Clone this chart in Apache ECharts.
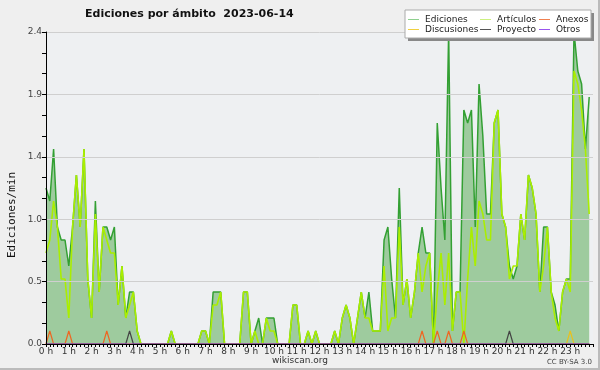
<!DOCTYPE html>
<html><head><meta charset="utf-8">
<script src="https://cdn.jsdelivr.net/npm/echarts@6/dist/echarts.min.js"></script>
<style>html,body{margin:0;padding:0;background:#efefef}#c{width:600px;height:370px}</style>
</head><body><div id="c"></div>
<script>
// 10-minute buckets, edits per minute
var ediciones = [1.2,1.1,1.5,0.9,0.8,0.8,0.6,0.9,1.3,0.9,1.5,0.5,0.2,1.1,0.4,0.9,0.9,0.8,0.9,0.3,0.6,0.2,0.4,0.4,
0.1,0,0,0,0,0,0,0,0,0.1,0,0,0,0,0,0,0,0.1,0.1,0,0.4,0.4,0.4,0,
0,0,0,0,0.4,0.4,0,0.1,0.2,0,0.2,0.2,0.2,0,0,0,0,0.3,0.3,0,0,0.1,0,0.1,
0,0,0,0,0.1,0,0.2,0.3,0.2,0,0.2,0.4,0.2,0.4,0.1,0.1,0.1,0.8,0.9,0.5,0.2,1.2,0.3,0.5,
0.2,0.4,0.7,0.9,0.7,0.7,0,1.7,1.2,0.8,2.4,0.1,0.4,0.4,1.8,1.7,1.8,0.9,2.0,1.6,1.0,1.0,1.7,1.8,
1.0,0.9,0.6,0.5,0.6,1.0,0.8,1.3,1.2,1.0,0.4,0.9,0.9,0.4,0.3,0.1,0.4,0.5,0.5,2.4,2.1,2.0,1.5,1.9];
var articulos = [0.7,0.8,1.1,0.9,0.5,0.5,0.2,0.9,1.3,0.9,1.5,0.5,0.2,1.0,0.4,0.9,0.8,0.7,0.7,0.3,0.6,0.2,0.3,0.4,
0.1,0,0,0,0,0,0,0,0,0.1,0,0,0,0,0,0,0,0.1,0.1,0,0.3,0.3,0.4,0,
0,0,0,0,0.4,0.4,0,0.1,0,0,0.2,0.1,0.1,0,0,0,0,0.3,0.3,0,0,0.1,0,0.1,
0,0,0,0,0.1,0,0.2,0.3,0.2,0,0.2,0.4,0.2,0.2,0.1,0.1,0.1,0.6,0.1,0.2,0.2,0.9,0.3,0.5,
0.2,0.4,0.7,0.4,0.6,0.7,0,0.4,0.7,0.3,0.7,0.1,0.4,0.4,0,0.5,0.9,0.6,1.1,1.0,0.8,0.8,1.7,1.8,
1.0,0.9,0.5,0.6,0.6,1.0,0.8,1.3,1.2,1.0,0.4,0.6,0.9,0.4,0.2,0.1,0.4,0.5,0.4,2.1,2.0,1.8,1.5,1.0];
var anexosIdx = [1,6,16,99,103,106,110];
var proyectoIdx = [22,122];
var discusionesIdx = [138];
var spikeValue = 0.1;
var hourTicks = [0,1,2,3,4,5,6,7,8,9,10,11,12,13,14,15,16,17,18,19,20,21,22,23];

function pairs(arr){ return arr.map(function(v,i){ return [i/6, v]; }); }
function spikes(idx){ var a=[]; for(var i=0;i<ediciones.length;i++){ a.push([i/6, idx.indexOf(i)>=0?spikeValue:0]); } return a; }

var chart = echarts.init(document.getElementById('c'), null, {renderer:'canvas'});
var lineSeries = function(name,data,color,w,z){ return {name:name,type:'line',data:data,symbol:'none',z:z,
  lineStyle:{color:color,width:w},itemStyle:{color:color},animation:false}; };
var legendBase = {orient:'vertical',itemWidth:11,itemHeight:1,itemGap:1,icon:'rect',z:20,padding:0,
  textStyle:{fontFamily:'DejaVu Sans',fontSize:9,lineHeight:9,color:'#222',padding:[0,0,0,1]},selectedMode:false};
chart.setOption({
  backgroundColor:'#efefef',
  animation:false,
  title:{text:'Ediciones por ámbito  2023-06-14',left:85,top:9,padding:0,textStyle:{fontFamily:'DejaVu Sans',fontWeight:'bold',fontSize:11,color:'#111'}},
  grid:{left:46,right:7,top:32,bottom:26,show:true,backgroundColor:'#eef0f2',borderWidth:0},
  legend:[
    Object.assign({},legendBase,{left:408,top:15,data:[{name:'Ediciones',itemStyle:{color:'#8fd08f'}},{name:'Discusiones',itemStyle:{color:'#f0d040'}}]}),
    Object.assign({},legendBase,{left:480,top:15,data:[{name:'Artículos',itemStyle:{color:'#ccf080'}},{name:'Proyecto',itemStyle:{color:'#555'}}]}),
    Object.assign({},legendBase,{left:539,top:15,data:[{name:'Anexos',itemStyle:{color:'#f08050'}},{name:'Otros',itemStyle:{color:'#9955ee'}}]})
  ],
  xAxis:{type:'value',min:0,max:24,interval:1,z:10,
    axisLine:{lineStyle:{color:'#000',width:1}},
    axisTick:{show:true,length:3,lineStyle:{color:'#000'}},
    minorTick:{show:true,splitNumber:6,length:3,lineStyle:{color:'#000'}},
    splitLine:{show:false},
    axisLabel:{fontFamily:'DejaVu Sans',fontSize:9,color:'#333',margin:3,
      formatter:function(v){ return hourTicks.indexOf(v)>=0 ? v+' h' : ''; }}},
  yAxis:{type:'value',min:0,max:2.4,interval:0.48,z:10,
    axisLine:{show:true,lineStyle:{color:'#000',width:1}},
    axisTick:{show:true,length:4,lineStyle:{color:'#000'}},
    minorTick:{show:true,splitNumber:3,length:4,lineStyle:{color:'#000'}},
    splitLine:{show:true,lineStyle:{color:'#cfcfcf',width:1}},
    axisLabel:{fontFamily:'DejaVu Sans',fontSize:9,color:'#444',margin:4,
      formatter:function(v){ return v.toFixed(1); }}},
  graphic:[
    {type:'rect',shape:{x:408,y:13,width:186,height:28},style:{fill:'#888'},z:15},
    {type:'rect',shape:{x:405,y:10,width:186,height:28},style:{fill:'#fff',stroke:'#aaa',lineWidth:1},z:15},
    {type:'text',x:12,y:215,rotation:Math.PI/2,style:{text:'Ediciones/min',fontFamily:'DejaVu Sans Mono',fontSize:11,fill:'#111',align:'center',verticalAlign:'middle'}},
    {type:'text',x:300,y:361,style:{text:'wikiscan.org',fontFamily:'DejaVu Sans',fontSize:9,fill:'#333',align:'center',verticalAlign:'middle'}},
    {type:'text',x:592,y:362,style:{text:'CC BY-SA 3.0',fontFamily:'DejaVu Sans',fontSize:7,fill:'#444',align:'right',verticalAlign:'middle'}},
    {type:'rect',shape:{x:598,y:0,width:2,height:370},style:{fill:'#bbb'},z:30},
    {type:'rect',shape:{x:0,y:368,width:600,height:2},style:{fill:'#bbb'},z:30}
  ],
  series:[
    Object.assign(lineSeries('Ediciones',pairs(ediciones),'#33a033',1.5,2),{areaStyle:{color:'#9ecb9e',opacity:1}}),
    lineSeries('Artículos',pairs(articulos),'#aaee00',1.6,3),
    lineSeries('Anexos',spikes(anexosIdx),'#ee6622',1.2,4),
    lineSeries('Discusiones',spikes(discusionesIdx),'#e8c020',1.2,4),
    lineSeries('Proyecto',spikes(proyectoIdx),'#444444',1.2,4),
    lineSeries('Otros',spikes([]),'#9944ee',1.2,4)
  ]
});
</script></body></html>
